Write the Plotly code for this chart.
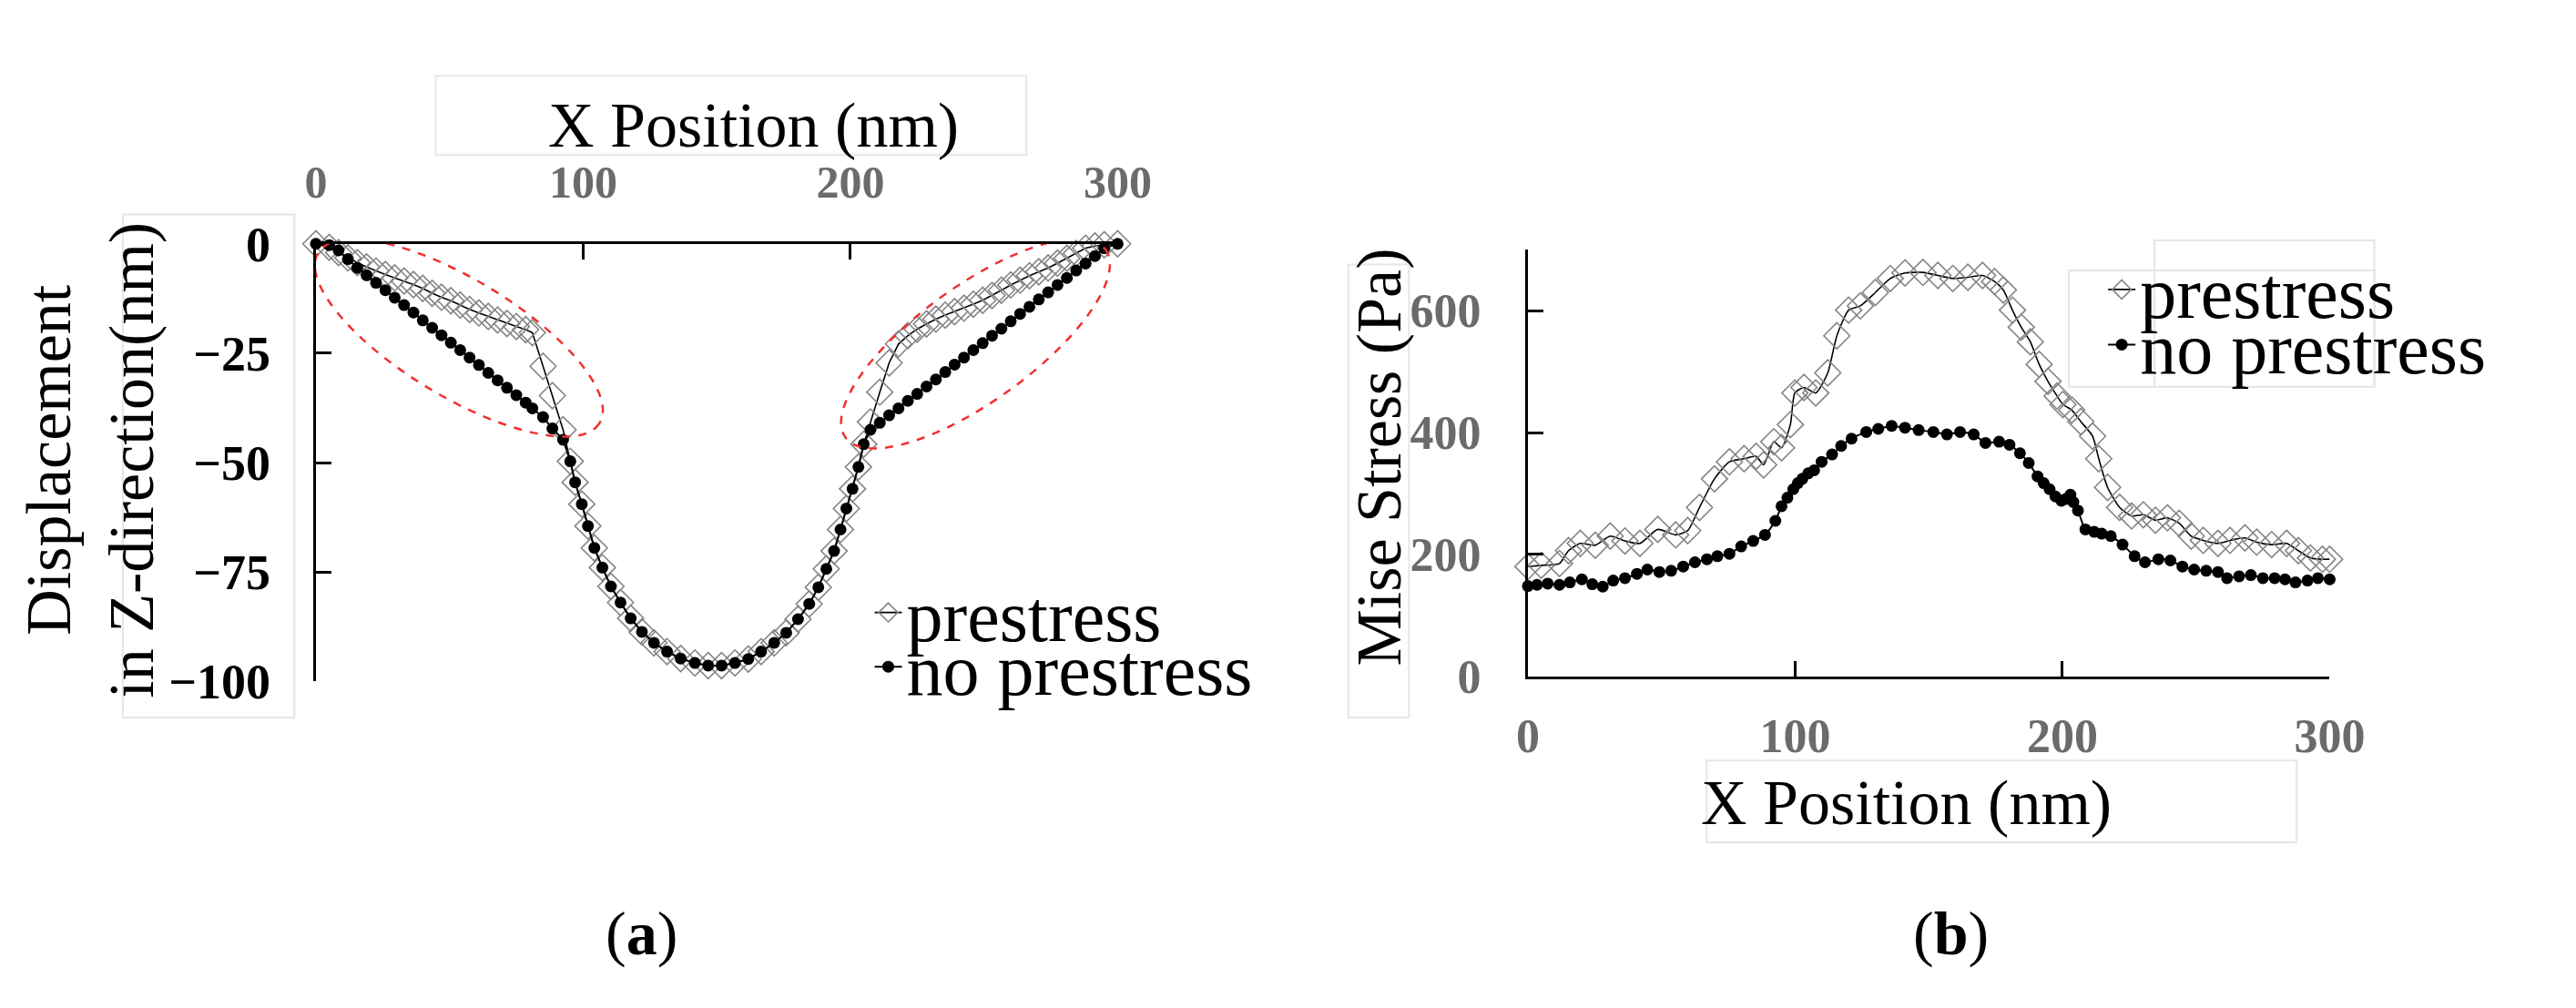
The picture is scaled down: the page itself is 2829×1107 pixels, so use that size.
"""Displacement and Mise stress along the surface, prestress vs no prestress"""
import plotly.graph_objects as go

SERIF = "Liberation Serif"
W, H = 2829, 1107
GREY = "#6b6b6b"

# ---- (a) displacement in z-direction ----
x_a = [0, 5, 8.5, 12, 15.5, 19, 22.5, 26, 29.5, 33, 36.5, 40, 43.5, 47, 50.5, 54,
       57.5, 61, 64.5, 68, 71.5, 75, 78.5, 81, 85, 88.5, 92.5, 95.2,
       97, 99.5, 101.8, 104.2, 107.2, 110.4, 114, 117.8, 122, 126.5, 131.4, 136.5,
       141.8, 146.8, 151.8, 156.8, 161.8, 166.6, 171.5, 176, 180.4, 184.6, 188, 191,
       193.9, 196.3, 198.5, 200.8, 203, 205,
       207.5, 211, 214.5, 218, 221.5, 225, 228.5, 232, 235.5, 239, 242.5, 246, 249.5,
       253, 256.5, 260, 263.5, 267, 270.5, 274, 277.5, 281, 284.5, 288, 291.5, 295, 300]
no_prestress_a = [0, -0.3, -1.5, -3.5, -5.5, -7.2, -8.9, -10.6, -12.3, -14.0, -15.7, -17.5,
                  -19.2, -20.9, -22.6, -24.3, -26.0, -27.7, -29.5, -31.2, -32.9, -34.6, -36.3,
                  -37.6, -39.6, -42.2, -44.8, -49.7,
                  -54.5, -59.5, -64.5, -69.5, -74, -78.3, -82, -85.6, -88.7, -91.2, -93.2, -94.8,
                  -95.8, -96.4, -96.4, -95.8, -94.9, -93.2, -91.2, -88.9, -85.8, -82.3, -78.5,
                  -74.3, -70.2, -65.3, -60.5, -56, -51, -45.8,
                  -42.5, -40.9, -39.2, -37.6, -35.9, -34.3, -32.6, -31.0, -29.3, -27.6, -26.0,
                  -24.3, -22.7, -21.0, -19.4, -17.7, -16.0, -14.4, -12.7, -11.1, -9.4, -7.8,
                  -6.1, -4.5, -2.8, -1.0, 0]
prestress_a = [0, -0.8, -2.0, -3.2, -4.3, -5.3, -6.2, -7.0, -7.8, -8.5, -9.3, -10.2, -11.3,
               -12.2, -13.0, -14.0, -15.0, -15.8, -16.6, -17.4, -18.2, -18.9, -19.6, -20.3,
               -28.0, -34.7, -42.5, -49.7,
               -54.5, -59.5, -64.5, -69.5, -74, -78.3, -82, -85.6, -88.7, -91.2, -93.2, -94.8,
               -95.8, -96.4, -96.4, -95.8, -94.9, -93.2, -91.2, -88.9, -85.8, -82.3, -78.5,
               -74.3, -70.2, -65.3, -60.5, -56, -51, -45.8,
               -40.7, -33.9, -27.2, -22.9, -21.0, -19.5, -18.3, -17.2, -16.3, -15.5, -14.7,
               -13.8, -12.9, -11.8, -10.6, -9.4, -8.3, -7.3, -6.4, -5.5, -4.4, -3.3, -2.2,
               -1.0, -0.5, -0.2, 0]
ticks_a_x = [0, 100, 200, 300]
ticks_a_y = [-100, -75, -50, -25, 0]

# red dashed ellipses on (a): centre, half major axis, half minor axis (data units)
ellipses_a = [
    ((53.5, -21.5), (52.5, -19.6), (-12.1, -11.2)),
    ((246.8, -22.8), (48.5, 21.6), (13.3, -10.4)),
]

# ---- (b) Mise stress ----
x_prestress_b = [0, 5, 11.8, 15.2, 19.6, 25.2, 30.8, 36.3, 41.9, 48.6, 55.3, 59.8, 64.2,
                 69.8, 75.4, 80.9, 85.4, 88.2, 92, 94.9, 98.2, 99.9, 103.3, 107.7, 112.2,
                 115.6, 120, 124.4, 130, 135.6, 141.1, 147.8, 153.4, 159, 164.6, 170.1,
                 174.6, 177.9, 181.3, 184.6, 188, 191.3, 194.6, 198, 200.2, 203.5, 206.9,
                 211.3, 213.6, 216.9, 221.4, 225.9, 230.3, 234.8, 239.3, 243.7, 248.2,
                 252.7, 258.2, 262.7, 268.3, 272.7, 278.3, 283.9, 288.3, 292.8, 297.3, 300]
prestress_b = [180, 182, 185, 206, 218, 215, 230, 222, 218, 241, 232, 239, 277,
               324, 352, 357, 361, 347, 385, 375, 413, 465, 474, 465, 498,
               559, 601, 608, 630, 653, 662, 663, 658, 653, 655, 658,
               648, 634, 601, 573, 549, 512, 484, 460, 446, 437, 418,
               394, 357, 310, 277, 263, 265, 256, 260, 251, 230,
               223, 218, 223, 227, 220, 216, 218, 206, 194, 192, 192]
x_no_prestress_b = [0, 3.4, 7.4, 11.8, 15.7, 20.2, 24.1, 28, 31.9, 36.3, 40.8, 44.7, 49.2,
                    53.6, 58.1, 62.5, 67, 70.9, 75.4, 79.8, 84.3, 88.7, 92.6, 94.9, 97.1,
                    99.3, 101, 102.7, 104.9, 107.1, 109.9, 113.8, 117.2, 121.1, 126.6, 131.1,
                    136.1, 141.1, 146.2, 151.7, 156.8, 161.7, 166.8, 171.2, 176.3, 180.2,
                    184.1, 187.4, 190.7, 193, 195.2, 197.4, 199.6, 201.3, 203, 204.1, 205.8,
                    208.6, 211.9, 214.7, 218.1, 222.5, 227, 230.9, 235.9, 240.4, 244.9,
                    249.3, 253.8, 258.2, 261.6, 266.1, 270.5, 275, 279.4, 283.3, 287.2,
                    291.7, 295.6, 300]
no_prestress_b = [148, 150, 152, 150, 154, 159, 151, 147, 157, 161, 168, 175, 171,
                  173, 180, 187, 192, 197, 201, 213, 222, 232, 255, 279, 293,
                  307, 317, 324, 333, 338, 352, 364, 378, 390, 401, 406,
                  411, 408, 404, 401, 397, 401, 397, 383, 385, 380,
                  366, 350, 328, 317, 307, 295, 288, 291, 298, 286, 272,
                  241, 237, 234, 230, 216, 197, 187, 192, 190, 180,
                  175, 173, 171, 161, 164, 166, 161, 161, 159, 154,
                  157, 161, 159]
ticks_b_x = [0, 100, 200, 300]
ticks_b_y = [0, 200, 400, 600]


def px_x(p):
    return p / W


def px_y(p):
    return 1 - p / H


def ellipse_path(c, a, b, k=0.5523):
    """closed ellipse as 4 cubic beziers (affine image of a circle)"""
    def pt(i, j):
        return (c[0] + i * a[0] + j * b[0], c[1] + i * a[1] + j * b[1])
    segs = [((1, k), (k, 1), (0, 1)), ((-k, 1), (-1, k), (-1, 0)),
            ((-1, -k), (-k, -1), (0, -1)), ((k, -1), (1, -k), (1, 0))]
    s = "M %.3f,%.3f" % pt(1, 0)
    for c1, c2, e in segs:
        s += " C %.3f,%.3f %.3f,%.3f %.3f,%.3f" % (*pt(*c1), *pt(*c2), *pt(*e))
    return s + " Z"


diamond = dict(symbol="diamond-open", size=22, color="#858585", line=dict(width=1.6, color="#858585"))
dot = dict(symbol="circle", size=13, color="black")

fig = go.Figure()
fig.add_trace(go.Scatter(x=x_a, y=prestress_a, mode="lines+markers", name="prestress",
                         line=dict(color="black", width=1.6), marker=diamond,
                         cliponaxis=False, legend="legend", xaxis="x", yaxis="y"))
fig.add_trace(go.Scatter(x=x_a, y=no_prestress_a, mode="lines+markers", name="no prestress",
                         line=dict(color="black", width=2), marker=dot,
                         cliponaxis=False, legend="legend2", xaxis="x", yaxis="y"))
fig.add_trace(go.Scatter(x=x_prestress_b, y=prestress_b, mode="lines+markers", name="prestress",
                         line=dict(color="black", width=1.6, shape="spline", smoothing=0.6),
                         marker=diamond, cliponaxis=False, legend="legend3",
                         xaxis="x2", yaxis="y2"))
fig.add_trace(go.Scatter(x=x_no_prestress_b, y=no_prestress_b, mode="lines+markers",
                         name="no prestress",
                         line=dict(color="black", width=2, shape="spline", smoothing=0.6),
                         marker=dot, cliponaxis=False, legend="legend4",
                         xaxis="x2", yaxis="y2"))

axis_common = dict(showgrid=False, zeroline=False, showline=True, linecolor="black",
                   linewidth=3, ticks="inside", ticklen=17, tickwidth=3, tickcolor="black")

legend_common = dict(xanchor="left", yanchor="middle", bgcolor="rgba(0,0,0,0)",
                     font=dict(family=SERIF, size=80, color="black"), borderwidth=0)

fig.update_layout(
    width=W, height=H, margin=dict(l=0, r=0, t=0, b=0),
    paper_bgcolor="white", plot_bgcolor="white", showlegend=True,
    xaxis=dict(domain=[px_x(332), px_x(1229)], range=[0, 300], side="top", anchor="y",
               tickvals=ticks_a_x, ticklabelstandoff=28,
               tickfont=dict(family=SERIF, size=50, color=GREY, weight="bold"), **axis_common),
    yaxis=dict(domain=[px_y(752), px_y(244)], range=[-100, 0], anchor="x",
               tickvals=ticks_a_y, ticklabelstandoff=36,
               tickfont=dict(family=SERIF, size=54, color="black", weight="bold"), **axis_common),
    xaxis2=dict(domain=[px_x(1688), px_x(2585)], range=[0, 300], anchor="y2",
                tickvals=ticks_b_x, ticklabelstandoff=18,
                tickfont=dict(family=SERIF, size=52, color=GREY, weight="bold"), **axis_common),
    yaxis2=dict(domain=[px_y(746), px_y(251)], range=[0, 700], anchor="x2",
                tickvals=ticks_b_y, ticklabelstandoff=38,
                tickfont=dict(family=SERIF, size=52, color=GREY, weight="bold"), **axis_common),
    legend=dict(x=px_x(952), y=px_y(672), **legend_common),
    legend2=dict(x=px_x(952), y=px_y(735), **legend_common),
    legend3=dict(x=px_x(2332), y=px_y(297), **legend_common),
    legend4=dict(x=px_x(2332), y=px_y(361), **legend_common),
)

title_font = dict(family=SERIF, size=70, color="black")
caption_font = dict(family=SERIF, size=68, color="black")
annotations = [
    dict(text="X Position (nm)", x=px_x(822), y=px_y(106), font=title_font),
    dict(text="Displacement<br>in Z-direction(nm)", x=px_x(80), y=px_y(495),
         textangle=-90, font=title_font),
    dict(text="Mise Stress (Pa)", x=px_x(1521), y=px_y(492), textangle=-90, font=title_font),
    dict(text="X Position (nm)", x=px_x(2111), y=px_y(893), font=title_font),
    dict(text="(<b>a</b>)", x=px_x(696), y=px_y(1045), font=caption_font),
    dict(text="(<b>b</b>)", x=px_x(2161), y=px_y(1045), font=caption_font),
]
for a in annotations:
    fig.add_annotation(xref="paper", yref="paper", showarrow=False,
                       xanchor="center", yanchor="middle", **a)

# faint frames left over from the pasted text boxes
frames = [(466, 49, 1127, 141), (116, 210, 308, 794), (2293, 275, 2635, 410),
          (2389, 240, 2635, 410), (1487, 268, 1555, 794), (1888, 844, 2548, 939)]
for x0, y0, x1, y1 in frames:
    fig.add_shape(type="rect", xref="paper", yref="paper", x0=px_x(x0), x1=px_x(x1),
                  y0=px_y(y0), y1=px_y(y1), line=dict(color="#e6e6e6", width=2), layer="below")

for c, a, b in ellipses_a:
    fig.add_shape(type="path", xref="x", yref="y", path=ellipse_path(c, a, b),
                  line=dict(color="#f03030", width=2.5, dash="dash"))

fig.write_html("out.html")
